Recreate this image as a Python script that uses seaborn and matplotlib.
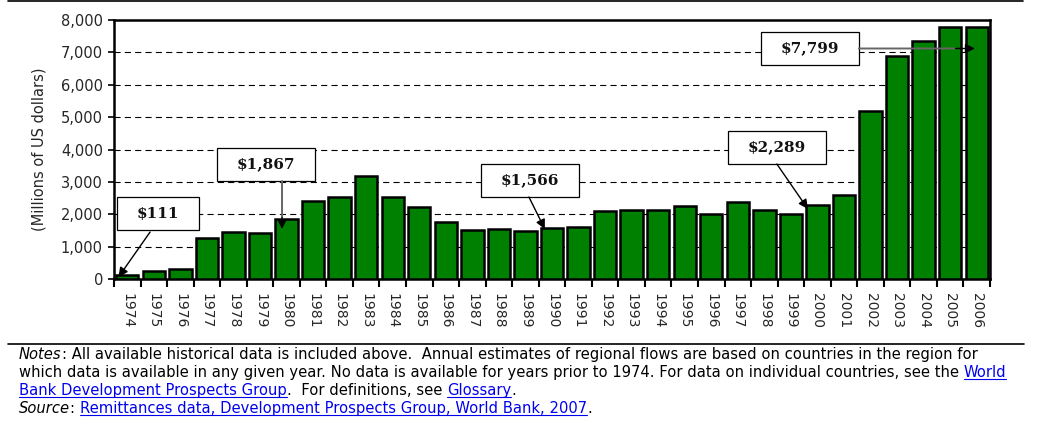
import matplotlib
matplotlib.use("Agg")
import matplotlib.pyplot as plt
import seaborn as sns
import pandas as pd
from matplotlib.lines import Line2D
from matplotlib.patches import Rectangle
from matplotlib.transforms import IdentityTransform, ScaledTranslation
from matplotlib.font_manager import FontProperties

# ---------------- data ----------------
years = [str(y) for y in range(1974, 2007)]
values = [111, 250, 310, 1268, 1454, 1423, 1867, 2412, 2536, 3186, 2536, 2227,
          1763, 1515, 1546, 1485, 1566, 1598, 2103, 2134, 2134, 2247, 2010,
          2381, 2134, 2010, 2289, 2598, 5196, 6887, 7351, 7794, 7799]
y_ticks = [0, 1000, 2000, 3000, 4000, 5000, 6000, 7000, 8000]
y_label = "(Millions of US dollars)"

GREEN = "#008000"

sns.set_style("white")
plt.rcParams["font.family"] = ["DejaVu Sans"]

W, H = 1037, 422
fig = plt.figure(figsize=(W / 100, H / 100), dpi=100)
ax = fig.add_axes([114 / W, 1 - 279 / H, (990 - 114) / W, (279 - 20) / H])

df = pd.DataFrame({"year": years, "value": values})
sns.barplot(data=df, x="year", y="value", color=GREEN, saturation=1,
            edgecolor="black", linewidth=1.8, width=0.84, ax=ax, zorder=3)

ax.set_xlim(-0.5, len(years) - 0.5)
ax.set_ylim(0, 8000)
ax.set_yticks(y_ticks)
ax.set_yticklabels([f"{v:,}" for v in y_ticks], fontsize=10.5)
ax.set_xlabel("")
ax.set_ylabel(y_label, fontsize=10.5, labelpad=10)

ax.set_xticks(range(len(years)))
ax.set_xticklabels(years, rotation=270, fontsize=10, va="top", ha="center")
ax.set_xticks([i - 0.5 for i in range(len(years) + 1)], minor=True)
ax.tick_params(axis="x", which="major", length=0, pad=10)
ax.tick_params(axis="x", which="minor", length=6, width=1.5, direction="out",
               color="black", bottom=True)
ax.tick_params(axis="y", which="major", length=4, width=1.2, direction="out",
               color="black", left=True, pad=4)

ax.yaxis.grid(True, color="black", linewidth=0.8, linestyle=(0, (5.5, 3.8)))
ax.xaxis.grid(False)
ax.set_axisbelow(True)
for s in ax.spines.values():
    s.set_visible(True)
    s.set_color("black")
    s.set_linewidth(1.8)

# ---------------- callouts ----------------
pos = {y: i for i, y in enumerate(years)}
val = dict(zip(years, values))

def box(xc, yc, label, w=0.98):
    tr = fig.dpi_scale_trans + ScaledTranslation(xc, yc, ax.transData)
    ax.add_patch(Rectangle((-w / 2, -0.165), w, 0.33, transform=tr,
                           facecolor="white", edgecolor="black", lw=0.9,
                           zorder=5, clip_on=False))
    ax.text(xc, yc, label, ha="center", va="center", fontsize=11,
            fontweight="bold", family="DejaVu Serif", color="#111111",
            zorder=6)

def arrow(start, tip, color="black"):
    ax.annotate("", xy=tip, xytext=start,
                arrowprops=dict(arrowstyle="-|>", color=color, lw=1.0,
                                mutation_scale=14, shrinkA=0, shrinkB=0),
                zorder=6)

def gray_arrow(start, head_start, tip):
    ax.annotate("", xy=head_start, xytext=start,
                arrowprops=dict(arrowstyle="-", color="#666666", lw=1.4,
                                shrinkA=0, shrinkB=0), zorder=6)
    arrow(head_start, tip, "black")

lbl = lambda y: f"${val[y]:,}"

# 1974
box(1.16, 2008, lbl("1974"), w=0.82)
arrow((0.86, 1452), (pos["1974"] - 0.33, 60))
# 1980
box(5.22, 3552, lbl("1980"))
gray_arrow((5.83, 3027), (5.83, 1900), (5.83, 1544))
# 1990
box(15.17, 3042, lbl("1990"))
arrow((15.13, 2533), (15.73, 1544))
# 2000
box(24.47, 4062, lbl("2000"))
arrow((24.47, 3552), (25.64, 2162))
# 2006
box(25.71, 7120, lbl("2006"))
gray_arrow((27.56, 7120), (31.2, 7120), (31.93, 7120))

# ---------------- frame lines ----------------
ident = IdentityTransform()
fig.add_artist(Line2D([8, 1023], [H - 0.8, H - 0.8], transform=ident,
                      color="black", lw=1.2))
fig.add_artist(Line2D([8, 1024], [H - 344, H - 344], transform=ident,
                      color="black", lw=1.2))

# ---------------- notes ----------------
fig.canvas.draw()
renderer = fig.canvas.get_renderer()
FS = 10.6
LINK = "#0000EE"

def width_of(s, style):
    fp = FontProperties(family="DejaVu Sans", size=FS, style=style)
    w_all, _, _ = renderer.get_text_width_height_descent("|" + s + "|", fp, ismath=False)
    w_bars, _, _ = renderer.get_text_width_height_descent("||", fp, ismath=False)
    return w_all - w_bars

def draw_line(segments, x0, y_img):
    x = x0
    yb = H - y_img
    for text, kind in segments:
        style = "italic" if kind == "it" else "normal"
        color = LINK if kind == "link" else "black"
        fig.text(x, yb, text, transform=ident, fontsize=FS, style=style,
                 color=color, va="baseline", ha="left", family="DejaVu Sans")
        w = width_of(text, style)
        if kind == "link":
            fig.add_artist(Line2D([x, x + w], [yb - 2, yb - 2], transform=ident,
                                  color=LINK, lw=0.8))
        x += w

notes = [
    [("Notes", "it"),
     (": All available historical data is included above.  Annual estimates of regional flows are based on countries in the region for", "n")],
    [("which data is available in any given year. No data is available for years prior to 1974. For data on individual countries, see the ", "n"),
     ("World", "link")],
    [("Bank Development Prospects Group", "link"), (".  For definitions, see ", "n"),
     ("Glossary", "link"), (".", "n")],
    [("Source", "it"), (": ", "n"),
     ("Remittances data, Development Prospects Group, World Bank, 2007", "link"), (".", "n")],
]
for i, segs in enumerate(notes):
    draw_line(segs, 19, 359 + 18 * i)

fig.savefig("out.png", dpi=100)
